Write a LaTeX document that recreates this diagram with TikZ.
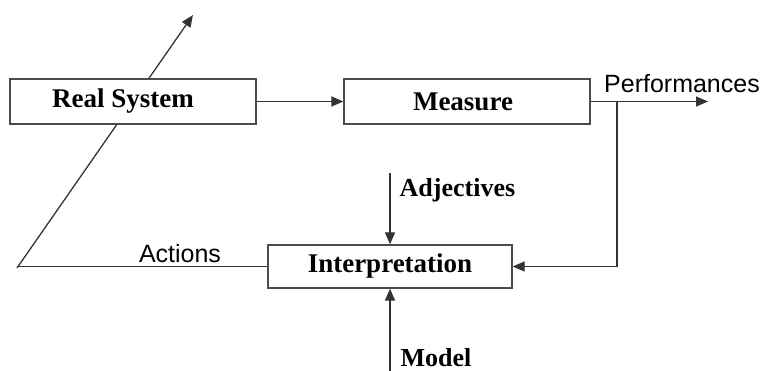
\documentclass[tikz,border=0pt]{standalone}
\usepackage{fontspec}
\setmainfont{Liberation Serif}
\newfontfamily\arialf{Liberation Sans}
\usetikzlibrary{arrows.meta}
\begin{document}
\begin{tikzpicture}[x=1pt,y=-1pt,
  line width=1.3pt,
  lc/.style={draw=black!80},
  arr/.style={lc,-{Triangle[length=12pt,width=10pt]}},
  box/.style={draw=black!70,fill=white,line width=1.3pt,inner sep=0pt,
    font=\fontsize{27}{32}\selectfont\bfseries},
  blab/.style={font=\fontsize{26}{31}\selectfont\bfseries,inner sep=0pt},
  slab/.style={font=\fontsize{25}{30}\selectfont\arialf,inner sep=0pt}]
\useasboundingbox (0,0) rectangle (763,371);
\coordinate (corner) at (17,268);
\coordinate (tip) at (193,15);
\draw[arr] (corner) -- (tip);
\node[box,minimum width=246pt,minimum height=45pt] (rs) at (133,101.5) {Real System\kern20pt};
\node[box,minimum width=246pt,minimum height=45pt] (ms) at (467,101.5) {Measure\kern8pt};
\node[box,minimum width=244pt,minimum height=43pt] (ip) at (390,266.5) {Interpretation};
\coordinate (perf) at (708,101.5);
\coordinate (fb) at (617,101.5);
\coordinate (adj) at (390,173);
\coordinate (mod) at (390,371);
\draw[arr] (rs) -- (ms);
\draw[arr] (ms.east) -- (perf);
\draw[arr] (fb) |- (ip.east);
\draw[arr] (adj) -- (ip.north);
\draw[arr] (mod) -- (ip.south);
\draw[lc] (ip.west) -- (ip.west -| corner);
\node[slab] (lperf) at (682,84) {Performances};
\node[slab] (lact) at (180,254) {Actions};
\node[blab,anchor=west] (ladj) at (399,190) {Adjectives};
\node[blab,anchor=west] (lmod) at (400,358) {Model};
\end{tikzpicture}
\end{document}
